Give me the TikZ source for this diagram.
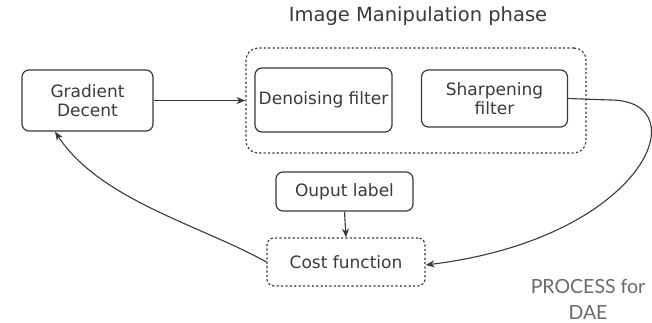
\documentclass[tikz,border=0pt]{standalone}
\usepackage{fontspec}
\setmainfont{DejaVu Sans}
\newfontfamily\notefont{Lato}
\usetikzlibrary{arrows.meta}
\definecolor{ink}{HTML}{3A3A3A}
\definecolor{notegray}{HTML}{6A6A6A}
\tikzset{
  box/.style={draw=ink, line width=1.2pt, rounded corners=7pt, align=center,
    text=ink, inner sep=0pt, font=\fontsize{17}{19}\selectfont},
  dbox/.style={box, dash pattern=on 2.2pt off 2.2pt},
  conn/.style={draw=ink, line width=1.1pt, -{Stealth[length=9pt,width=7pt]}},
  note/.style={text=notegray, anchor=base, inner sep=0pt, font=\notefont\fontsize{19.5}{22}\selectfont},
}
\begin{document}
\begin{tikzpicture}[x=1pt,y=-1pt]
  \useasboundingbox[fill=white] (0,0) rectangle (652,323);
  % phase heading
  \node[text=ink, font=\fontsize{19.5}{21}\selectfont] (title) at (418,16) {Image Manipulation phase};
  % group frame and filters
  \node[dbox, rounded corners=12pt, minimum width=340pt, minimum height=105pt] (phase) at (416,100.5) {};
  \node[box, minimum width=131pt, minimum height=61pt] (grad) at (87.5,100.5) {Gradient\\Decent};
  \node[box, minimum width=137pt, minimum height=64pt] (denoise) at (323.5,100) {Denoising filter};
  \node[box, minimum width=146pt, minimum height=57pt] (sharp) at (494.5,98.5) {Sharpening\\filter};
  % loss part
  \node[box, minimum width=137pt, minimum height=39pt] (label) at (344.5,191.5) {Ouput label};
  \node[dbox, minimum width=158pt, minimum height=48pt] (cost) at (346,262) {Cost function};
  % caption
  \node[note] (cap1) at (588,293.5) {PROCESS for};
  \node[note] (cap2) at (588,319.5) {DAE};
  % connectors
  \coordinate (bend) at (610,100);
  \draw[conn] (grad.east) -- (phase.west);
  \draw[conn] (label.south) -- (cost.north);
  \draw[conn] (sharp.east) -- (bend) .. controls (700,100) and (645,238) .. ([yshift=-3pt]cost.east);
  \draw[conn] (cost.west) .. controls (200,225) and (100,200) .. (grad.south west -| 55,0);
\end{tikzpicture}
\end{document}
